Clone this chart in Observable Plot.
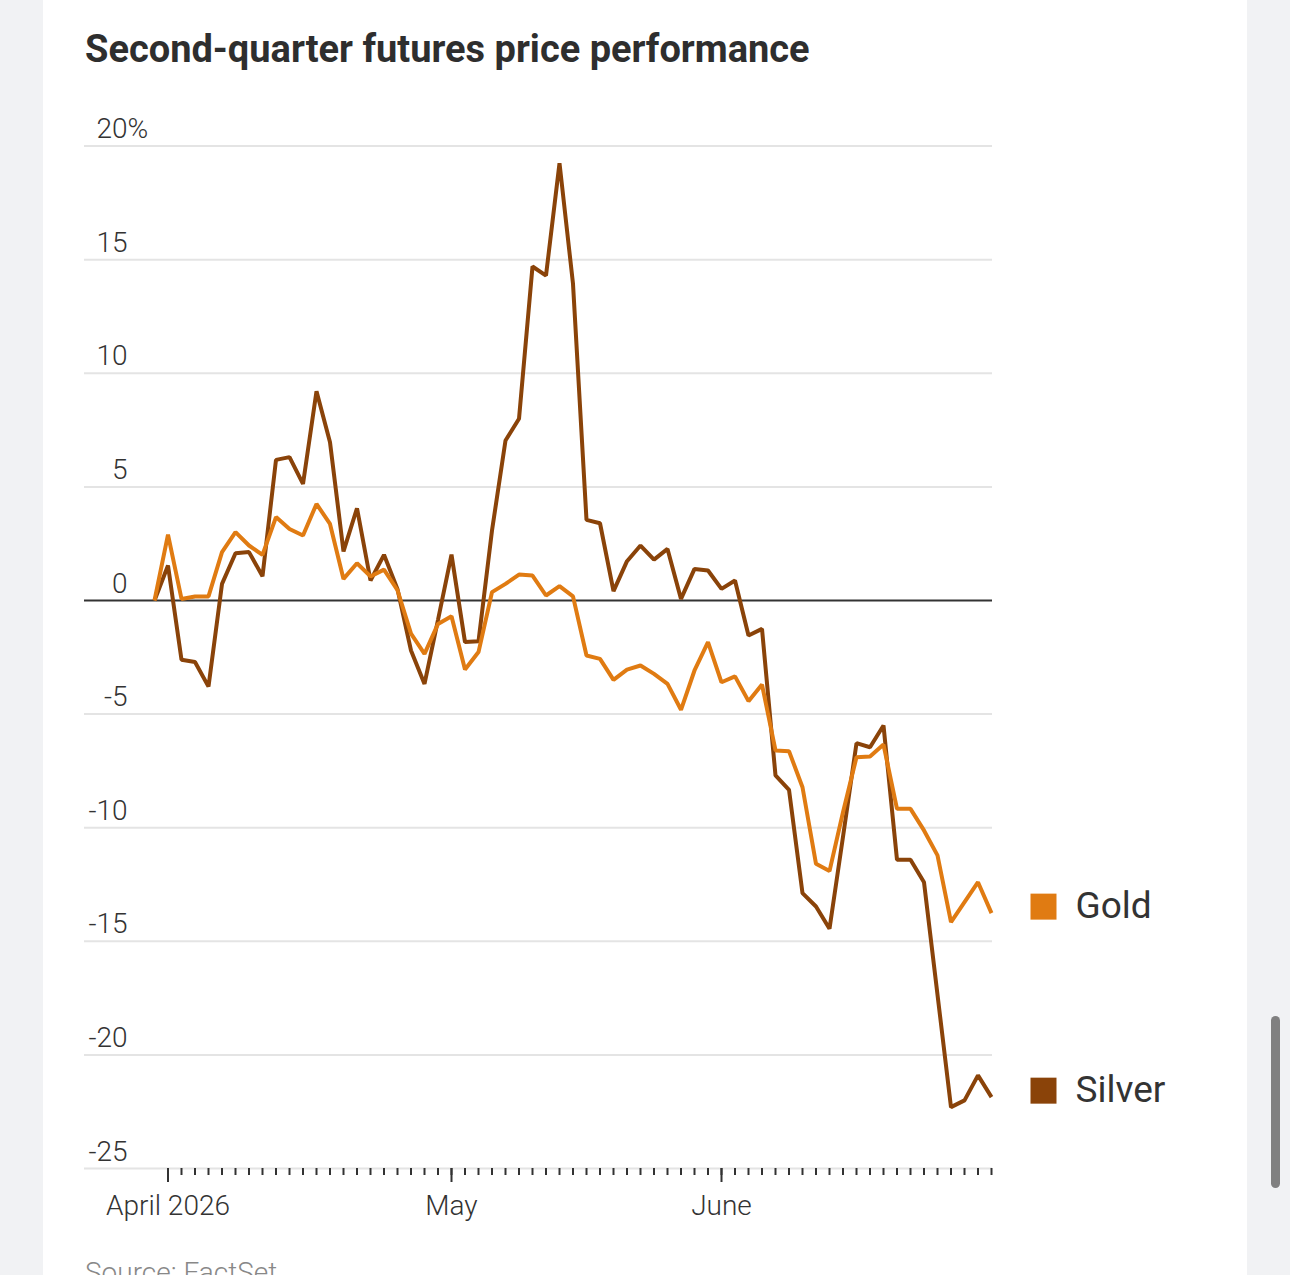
<!DOCTYPE html>
<html><head><meta charset="utf-8">
<script src="https://cdn.jsdelivr.net/npm/d3@7"></script>
<script src="https://cdn.jsdelivr.net/npm/@observablehq/plot@0.6"></script>
<style>
html,body{margin:0;padding:0;}
body{width:1290px;height:1275px;background:#f1f2f4;position:relative;overflow:hidden;font-family:Roboto,"Noto Sans",sans-serif;}
#card{position:absolute;left:43px;top:0;width:1204px;height:1275px;background:#fff;}
#title{position:absolute;left:85px;top:30px;font:700 38px/1 Roboto,sans-serif;color:#2e2e2e;white-space:nowrap;}
#chart{position:absolute;left:0;top:90px;}
#source{position:absolute;left:85px;top:1259px;font:300 28px/1 Roboto,sans-serif;color:#888;white-space:nowrap;}
#scroll{position:absolute;left:1271px;top:1016px;width:9px;height:172px;border-radius:5px;background:#808080;}
</style></head><body>
<div id="card"></div>
<div id="title">Second-quarter futures price performance</div>
<div id="chart"></div>
<div id="source">Source: FactSet</div>
<div id="scroll"></div>
<script>
// Trading-day categories (Mar 31 baseline through Jun 30, 2026)
const startDate = "2026-03-31";
const endDate = "2026-06-30";
const holidays = ["2026-04-03", "2026-05-25", "2026-06-19"];

// Percent change since Mar 31
const gold = [0, 2.90, 0.07, 0.18, 0.18, 2.13, 3.01, 2.42, 2.01, 3.67,
  3.15, 2.86, 4.25, 3.37, 0.95, 1.64, 1.06, 1.36, 0.45, -1.46,
  -2.35, -1.03, -0.69, -3.04, -2.27, 0.37, 0.73, 1.14, 1.10, 0.22,
  0.63, 0.18, -2.42, -2.57, -3.49, -3.04, -2.86, -3.23, -3.67, -4.81,
  -3.08, -1.83, -3.60, -3.34, -4.43, -3.70, -6.60, -6.63, -8.22, -11.59,
  -11.91, -9.32, -6.90, -6.87, -6.34, -9.17, -9.17, -10.12, -11.22, -14.16,
  -13.28, -12.40, -13.76];
const silver = [0, 1.54, -2.61, -2.71, -3.79, 0.73, 2.08, 2.13, 1.07, 6.19,
  6.31, 5.13, 9.21, 6.97, 2.16, 4.06, 0.88, 2.01, 0.50, -2.20,
  -3.67, -0.85, 2.02, -1.83, -1.79, 3.08, 7.04, 8.00, 14.70, 14.30,
  19.25, 13.94, 3.55, 3.40, 0.41, 1.73, 2.42, 1.80, 2.27, 0.07,
  1.39, 1.32, 0.51, 0.88, -1.54, -1.25, -7.70, -8.33, -12.88, -13.47,
  -14.45, -10.40, -6.28, -6.46, -5.50, -11.41, -11.41, -12.40, -17.35, -22.30,
  -22.00, -20.90, -21.86];

const yTicks = [20, 15, 10, 5, 0, -5, -10, -15, -20, -25];
const monthTicks = ["2026-04-01", "2026-05-01", "2026-06-01"];
const monthLabels = ["April 2026", "May", "June"];
const seriesNames = ["Silver", "Gold"];
const seriesColors = {Gold: "#e07b12", Silver: "#8a4309"};

const days = [];
for (let d = new Date(startDate + "T00:00:00Z"); d <= new Date(endDate + "T00:00:00Z"); d.setUTCDate(d.getUTCDate() + 1)) {
  const wd = d.getUTCDay();
  const s = d.toISOString().slice(0, 10);
  if (wd === 0 || wd === 6 || holidays.includes(s)) continue;
  days.push(s);
}
const valuesBy = {Gold: gold, Silver: silver};
const rowsBy = {};
for (const name of seriesNames) {
  rowsBy[name] = days.map((date, i) => ({date, value: valuesBy[name][i], series: name}));
}

const labelFont = {fontSize: 28, fontWeight: 300, fill: "#333"};
const marks = [
  Plot.ruleY(yTicks.filter(d => d !== 0), {stroke: "#e4e4e4", strokeWidth: 2}),
  Plot.axisX(days.slice(1), {tickSize: 7, tickFormat: () => "", label: null, stroke: "#333", strokeWidth: 2}),
  Plot.axisX(monthTicks, {tickSize: 14, tickPadding: 13, tickFormat: d => monthLabels[monthTicks.indexOf(d)],
    label: null, stroke: "#333", strokeWidth: 2, fontSize: 28, fontWeight: 300, fill: "#333"}),
  Plot.text(yTicks, {y: d => d, text: d => String(d), frameAnchor: "left", dx: 43, dy: -8,
    textAnchor: "end", lineAnchor: "bottom", ...labelFont}),
  Plot.text([20], {y: d => d, text: () => "%", frameAnchor: "left", dx: 43, dy: -8,
    textAnchor: "start", lineAnchor: "bottom", ...labelFont}),
  Plot.ruleY([0], {stroke: "#333", strokeWidth: 2})
];
for (const name of seriesNames) {
  marks.push(Plot.line(rowsBy[name], {x: "date", y: "value", stroke: seriesColors[name], strokeWidth: 4,
    strokeLinejoin: "miter", strokeLinecap: "butt"}));
}
for (const name of seriesNames) {
  const last = rowsBy[name].slice(-1);
  marks.push(Plot.dot(last, {x: "date", y: "value", dx: 52, dy: -6.5, symbol: "square", r: 14.67,
    fill: seriesColors[name], stroke: null}));
  marks.push(Plot.text(last, {x: "date", y: "value", text: "series", dx: 84, dy: 4.5, textAnchor: "start",
    lineAnchor: "bottom", fontSize: 37, fontWeight: 400, fill: "#333"}));
}

const chart = Plot.plot({
  width: 1290,
  height: 1138,
  marginLeft: 84,
  marginRight: 298,
  marginTop: 55.6,
  marginBottom: 60,
  x: {type: "point", domain: days, range: [154, 991], padding: 0, label: null},
  y: {domain: [-25, 20], axis: null},
  style: {fontFamily: "Roboto, sans-serif", background: "transparent", color: "#333", overflow: "visible"},
  marks
});
document.getElementById("chart").appendChild(chart);
</script>
</body></html>
